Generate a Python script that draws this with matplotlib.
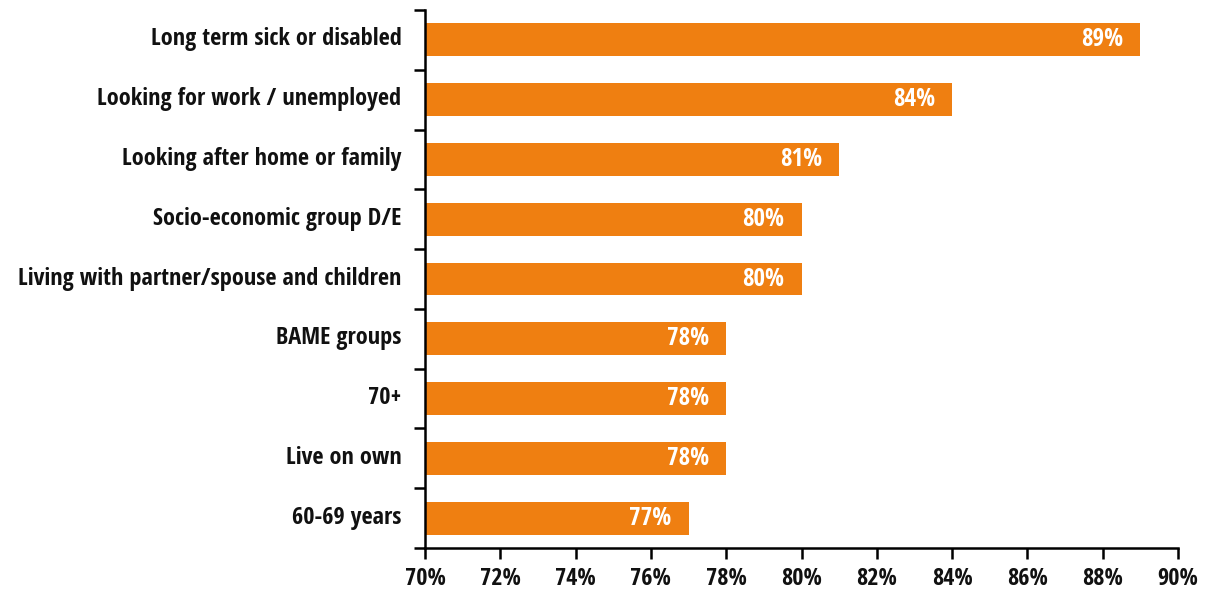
import matplotlib
matplotlib.use("Agg")
import matplotlib.pyplot as plt
import matplotlib.transforms as mtransforms
import numpy as np

categories = [
    "Long term sick or disabled",
    "Looking for work / unemployed",
    "Looking after home or family",
    "Socio-economic group D/E",
    "Living with partner/spouse and children",
    "BAME groups",
    "70+",
    "Live on own",
    "60-69 years",
]
values = [89, 84, 81, 80, 80, 78, 78, 78, 77]
xticks = [70, 72, 74, 76, 78, 80, 82, 84, 86, 88, 90]

FONT = dict(family=["Open Sans Condensed", "DejaVu Sans"], weight="bold")

fig = plt.figure(figsize=(12.06, 5.94), dpi=100)
ax = fig.add_axes([425/1206, 1 - 548/594, (1178 - 425)/1206, (548 - 10)/594])

n = len(categories)
y = np.arange(n)
ax.barh(y, values, height=0.55, color="#EF7F11", left=0)
ax.set_xlim(70, 90)
ax.set_ylim(n - 0.5, -0.5)

for yi, v in zip(y, values):
    ax.text(v - 0.45, yi, f"{v}%", ha="right", va="center", color="white",
            fontsize=18, **FONT)

ax.set_yticks(y)
ax.set_yticklabels(categories, fontsize=17.5, color="#111111", **FONT)
ax.set_yticks(np.arange(-0.5, n, 1), minor=True)
ax.tick_params(axis="y", which="major", length=0, pad=17)
ax.tick_params(axis="y", which="minor", length=8, width=1.8, direction="out")
shift = mtransforms.ScaledTranslation(0, 2.5 / 72, fig.dpi_scale_trans)
for lab in ax.get_yticklabels():
    lab.set_transform(lab.get_transform() + shift)

ax.set_xticks(xticks)
ax.set_xticklabels([f"{t}%" for t in xticks], fontsize=17.5, color="#111111", **FONT)
ax.tick_params(axis="x", length=8, width=1.8, direction="out", pad=6)

for s in ["top", "right"]:
    ax.spines[s].set_visible(False)
for s in ["left", "bottom"]:
    ax.spines[s].set_linewidth(1.8)

fig.savefig("out.png", dpi=100)
